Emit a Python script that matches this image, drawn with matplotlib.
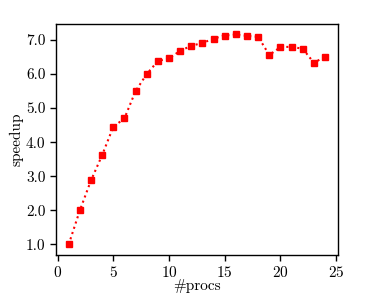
import matplotlib
matplotlib.use('Agg')
import matplotlib.pyplot as plt
import matplotlib.ticker as ticker

plt.rcParams['font.family'] = 'serif'
plt.rcParams['font.serif'] = ['cmr10']
plt.rcParams['mathtext.fontset'] = 'cm'
plt.rcParams['axes.formatter.use_mathtext'] = True

# Data for plotting
procs = [1, 2, 3, 4, 5, 6, 7, 8, 9, 10, 11, 12,
         13, 14, 15, 16, 17, 18, 19, 20, 21, 22, 23, 24]
speedup = [1.0, 2.0, 2.88, 3.62, 4.45, 4.70, 5.50, 6.00, 6.38, 6.46, 6.68, 6.83,
           6.91, 7.04, 7.13, 7.16, 7.12, 7.09, 6.56, 6.79, 6.80, 6.74, 6.33, 6.51]

fig = plt.figure(figsize=(3.75, 3.0), dpi=100)
ax1 = fig.add_axes([0.149, 0.15, 0.752, 0.77])
ax1.plot(procs, speedup, color='red', linestyle=':', linewidth=1.5,
         marker='s', markersize=5)

ax1.set_xlabel('#procs', fontsize=11, labelpad=-1)
ax1.set_ylabel('speedup', fontsize=11, labelpad=2)
ax1.yaxis.set_major_formatter(ticker.FormatStrFormatter('%.1f'))
ax1.xaxis.set_major_locator(ticker.MultipleLocator(5))
ax1.yaxis.set_major_locator(ticker.MultipleLocator(1))
ax1.tick_params(labelsize=11, direction='out', top=False, right=False,
                length=4, width=1)
for s in ax1.spines.values():
    s.set_linewidth(1)

fig.savefig('out.png', dpi=100)
